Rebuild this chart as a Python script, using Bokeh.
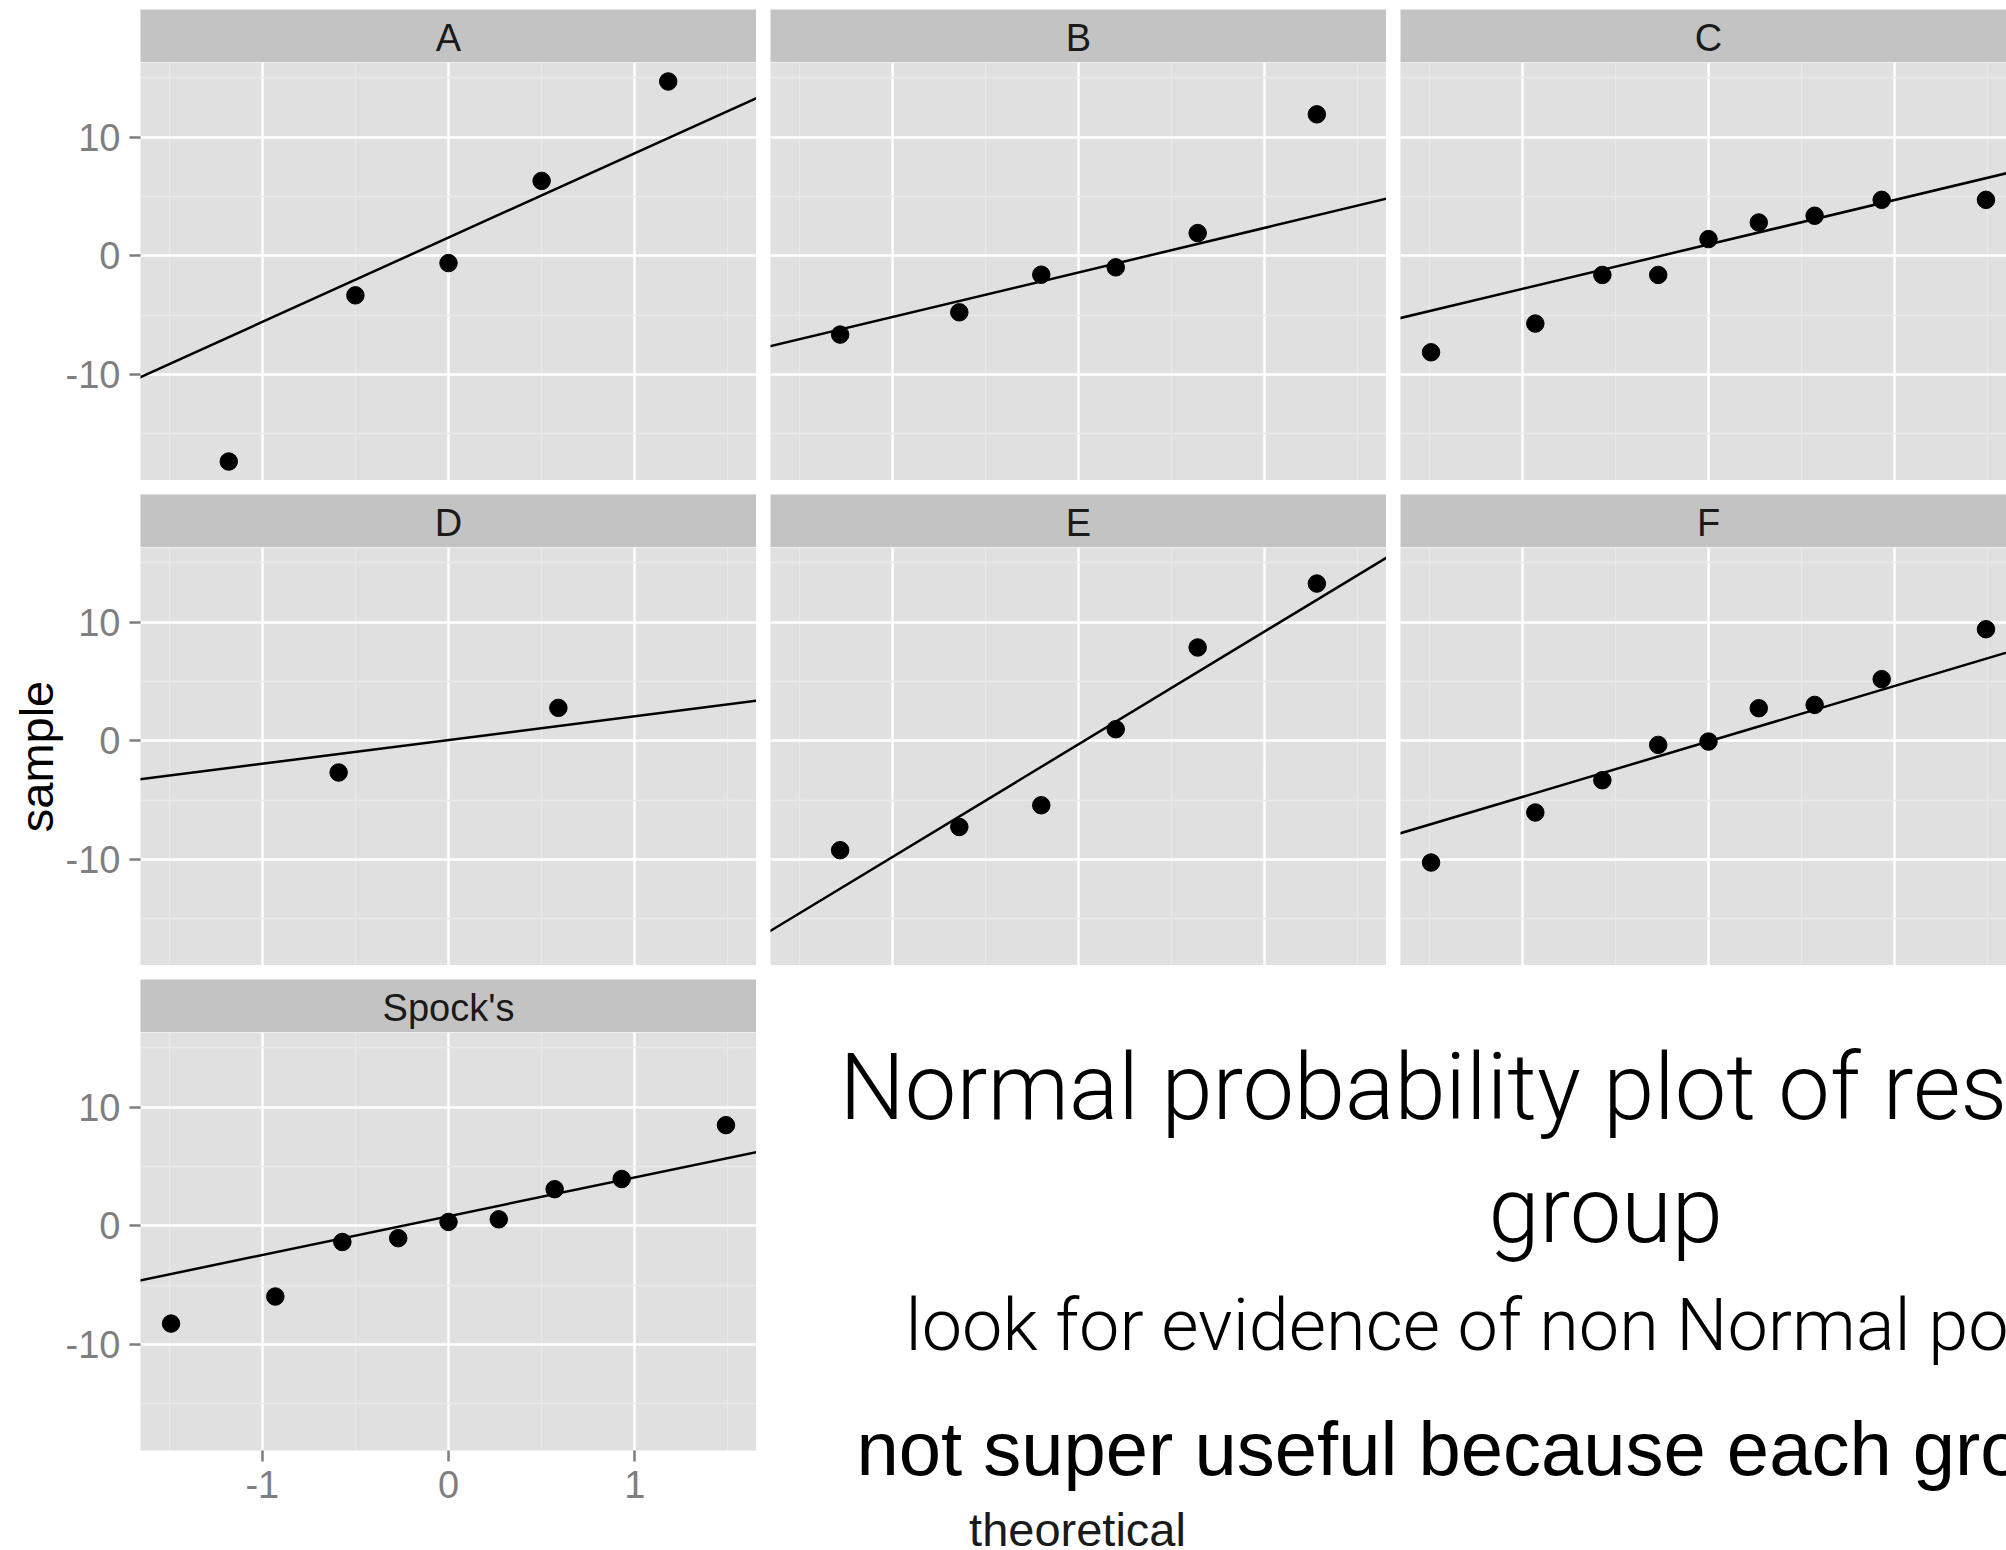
from bokeh.plotting import figure
from bokeh.layouts import column, row
from bokeh.models import Range1d, FixedTicker, Slope
from bokeh.core.properties import value
from bokeh.embed import file_html
from bokeh.resources import INLINE

# ---- data -----------------------------------------------------------------
groups = ["A", "B", "C", "D", "E", "F", "Spock's"]

# theoretical normal quantiles (x) for each facet
theoretical_A = [-1.18, -0.50, 0.00, 0.50, 1.18]
theoretical_B = [-1.28, -0.64, -0.20, 0.20, 0.64, 1.28]
theoretical_C = [-1.49, -0.93, -0.57, -0.27, 0.00, 0.27, 0.57, 0.93, 1.49]
theoretical_D = [-0.59, 0.59]
theoretical_E = [-1.28, -0.64, -0.20, 0.20, 0.64, 1.28]
theoretical_F = [-1.49, -0.93, -0.57, -0.27, 0.00, 0.27, 0.57, 0.93, 1.49]
theoretical_S = [-1.49, -0.93, -0.57, -0.27, 0.00, 0.27, 0.57, 0.93, 1.49]

# ordered residuals (y) for each facet
sample_A = [-17.35, -3.34, -0.62, 6.31, 14.69]
sample_B = [-6.65, -4.77, -1.60, -0.98, 1.91, 11.92]
sample_C = [-8.14, -5.72, -1.62, -1.62, 1.40, 2.80, 3.37, 4.71, 4.71]
sample_D = [-2.68, 2.77]
sample_E = [-9.23, -7.27, -5.44, 0.97, 7.86, 13.25]
sample_F = [-10.27, -6.05, -3.33, -0.35, -0.07, 2.74, 3.02, 5.19, 9.40]
sample_S = [-8.25, -5.97, -1.37, -1.05, 0.32, 0.54, 3.08, 3.94, 8.48]

# reference line through the quartiles of each facet
line_slope = [7.11, 3.76, 3.75, 2.00, 9.51, 4.68, 3.27]
line_intercept = [1.53, -1.41, 0.95, 0.06, -0.30, -0.06, 0.80]

x_ticks = [-1, 0, 1]
x_minor = [-1.5, -0.5, 0.5, 1.5]
y_ticks = [-10, 0, 10]
y_minor = [-15, -5, 5, 15]
x_tick_labels = {-1: "-1", 0: "0", 1: "1"}
y_tick_labels = {-10: "-10", 0: "0", 10: "10"}

theoretical = [theoretical_A, theoretical_B, theoretical_C, theoretical_D,
               theoretical_E, theoretical_F, theoretical_S]
samples = [sample_A, sample_B, sample_C, sample_D, sample_E, sample_F, sample_S]

# ---- style / geometry -----------------------------------------------------
SANS = "'Liberation Sans', Arial, Helvetica, sans-serif"
LIGHT = "'Roboto Light', 'Lato Light', 'Open Sans Light', 'Liberation Sans', sans-serif"
PANEL_BG = "#e0e0e0"
STRIP_BG = "#c3c3c3"
MINOR = "#e9e9e9"
AXIS_GREY = "#7f7f7f"

X_LIM = (-1.654, 1.654)
Y_LIM = (-18.95, 16.29)
FRAME_W, FRAME_H, STRIP_H = 616, 418, 53
LEFT_W, GAP, LAST_W = 140, 14, 606


def x_range_for(frame_w):
    span = (X_LIM[1] - X_LIM[0]) * frame_w / FRAME_W
    return Range1d(X_LIM[0], X_LIM[0] + span)


def make_strip(label, frame_w, left, top):
    s = figure(title=None, frame_width=frame_w, frame_height=STRIP_H,
               x_range=x_range_for(frame_w), y_range=Range1d(0, 1),
               x_axis_location=None, y_axis_location=None,
               toolbar_location=None, output_backend="svg",
               min_border_left=left, min_border_right=0,
               min_border_top=top, min_border_bottom=0,
               background_fill_color=STRIP_BG, border_fill_color="white",
               outline_line_color=None)
    s.grid.visible = False
    s.text(x=[0], y=[0.47], text=[label], text_align="center",
           text_baseline="middle", text_font=value(SANS),
           text_font_size="38px", text_color="#1a1a1a")
    return s


def style_axis(ax, ticks, labels):
    ax.ticker = FixedTicker(ticks=ticks)
    ax.major_label_overrides = labels
    ax.major_label_text_font = SANS
    ax.major_label_text_font_size = "38px"
    ax.major_label_text_color = AXIS_GREY
    ax.major_label_standoff = 9
    ax.major_tick_out = 11
    ax.major_tick_in = 0
    ax.major_tick_line_color = AXIS_GREY
    ax.major_tick_line_width = 2.5
    ax.minor_tick_line_color = None
    ax.axis_line_color = None


def make_panel(i, frame_w, left, bottom, show_y=False, show_x=False, ylabel=None):
    p = figure(title=None, frame_width=frame_w, frame_height=FRAME_H,
               x_range=x_range_for(frame_w), y_range=Range1d(*Y_LIM),
               x_axis_location="below" if show_x else None,
               y_axis_location="left" if show_y else None,
               toolbar_location=None, output_backend="svg",
               min_border_left=left, min_border_right=0,
               min_border_top=0, min_border_bottom=bottom,
               background_fill_color=PANEL_BG, border_fill_color="white",
               outline_line_color=None)
    p.xgrid.ticker = FixedTicker(ticks=x_ticks, minor_ticks=x_minor)
    p.ygrid.ticker = FixedTicker(ticks=y_ticks, minor_ticks=y_minor)
    p.grid.grid_line_color = "white"
    p.grid.grid_line_width = 2.5
    p.grid.minor_grid_line_color = MINOR
    p.grid.minor_grid_line_width = 1.3
    if show_y:
        style_axis(p.yaxis[0], y_ticks, y_tick_labels)
        if ylabel:
            p.yaxis.axis_label = ylabel
            p.yaxis.axis_label_text_font = SANS
            p.yaxis.axis_label_text_font_size = "47px"
            p.yaxis.axis_label_text_font_style = "normal"
            p.yaxis.axis_label_text_color = "black"
            p.yaxis.axis_label_standoff = 0
    if show_x:
        style_axis(p.xaxis[0], x_ticks, x_tick_labels)

    p.add_layout(Slope(gradient=line_slope[i], y_intercept=line_intercept[i],
                       line_color="black", line_width=2.5))
    p.scatter(theoretical[i], samples[i], size=17.5, color="black")
    return p


def cell(i, frame_w, left, top, bottom=0, show_y=False, show_x=False, ylabel=None):
    return column(make_strip(groups[i], frame_w, left, top),
                  make_panel(i, frame_w, left, bottom, show_y, show_x, ylabel))


row1 = row(cell(0, FRAME_W, LEFT_W, 9, show_y=True),
           cell(1, FRAME_W, GAP, 9),
           cell(2, LAST_W, GAP, 9))
row2 = row(cell(3, FRAME_W, LEFT_W, GAP, show_y=True, ylabel="sample"),
           cell(4, FRAME_W, GAP, GAP),
           cell(5, LAST_W, GAP, GAP))

bottom_cell = cell(6, FRAME_W, LEFT_W, GAP, bottom=100, show_y=True, show_x=True)

# free space to the right of the last facet: commentary and the x axis title
TXT_W, TXT_H = 2006 - (LEFT_W + FRAME_W), 14 + STRIP_H + FRAME_H + 100
x0 = LEFT_W + FRAME_W
y0 = 1550 - TXT_H
notes = figure(title=None, frame_width=TXT_W, frame_height=TXT_H,
               x_range=Range1d(x0, x0 + TXT_W), y_range=Range1d(y0 + TXT_H, y0),
               x_axis_location=None, y_axis_location=None,
               toolbar_location=None, output_backend="svg", min_border=0,
               background_fill_color="white", border_fill_color="white",
               outline_line_color=None)
notes.grid.visible = False


def note(x, y, text, font, size, align="left", color="black"):
    notes.text(x=[x], y=[y], text=[text], text_align=align,
               text_font=value(font), text_font_size=f"{size}px",
               text_color=color, text_baseline="alphabetic")


note(839, 1087, "Normal probability plot of residuals by", LIGHT, 92)
note(1488, 1210, "group", LIGHT, 92)
note(905, 1325, "look for evidence of non Normal populations", LIGHT, 72)
note(856, 1448, "not super useful because each group has few points", SANS, 76)
note(1077, 1529, "theoretical", SANS, 47, align="center", color="#1a1a1a")

row3 = row(bottom_cell, notes)

layout = column(row1, row2, row3)

open("out.html", "w").write(file_html(layout, INLINE))
